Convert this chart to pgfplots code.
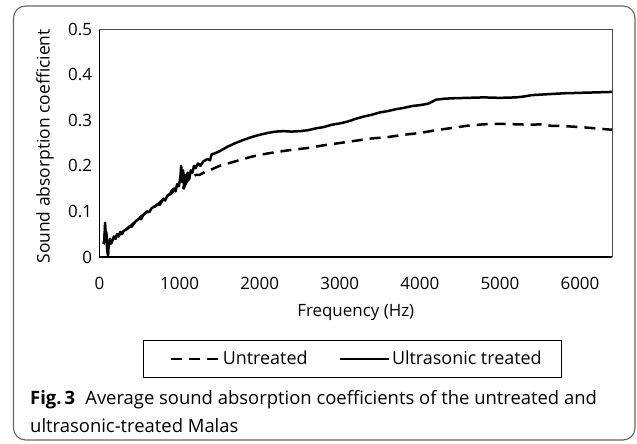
\documentclass[border=0pt]{standalone}
\usepackage{fontspec}
\setmainfont{Open Sans}
\usepackage{pgfplots}
\pgfplotsset{compat=1.18}
\begin{document}
\begin{tikzpicture}[x=1bp,y=1bp]
\useasboundingbox (-99.5,-187) rectangle (537.5,257);
\draw[gray!80!black, line width=1.1bp, rounded corners=12bp] (-86,251) rectangle (535.5,-183);
\begin{axis}[
  at={(0,0)}, anchor=south west,
  scale only axis, width=512.5bp, height=228bp,
  xmin=0, xmax=6400, ymin=0, ymax=0.5,
  xtick={0,1000,2000,3000,4000,5000,6000},
  ytick={0,0.1,0.2,0.3,0.4,0.5},
  yticklabels={0,0.1,0.2,0.3,0.4,0.5},
  xticklabels={0,1000,2000,3000,4000,5000,6000},
  major tick length=0pt,
  axis x line*=bottom, axis y line*=left,
  axis line style={black, line width=1.8bp, -},
  font=\fontsize{17}{19}\selectfont,
  xticklabel style={yshift=-17bp},
  yticklabel style={xshift=-4bp},
  xlabel={Frequency (Hz)},
  ylabel={Sound absorption coefficient},
  xlabel style={at={(axis description cs:0.5,-0.245)}, anchor=center},
  ylabel style={at={(axis description cs:-0.1063,0.485)}, anchor=center, rotate=0, font=\fontsize{17.5}{19}\selectfont},
  legend columns=2,
  legend style={at={(axis description cs:0.4937,-0.4465)}, anchor=center,
    draw=black, line width=0.9bp, inner xsep=18bp, inner ysep=8bp,
    font=\fontsize{18}{20}\selectfont,
    nodes={inner xsep=2bp, inner ysep=3bp},
    /tikz/every odd column/.append style={column sep=0bp},
    /tikz/every even column/.append style={column sep=21bp}},
  legend image code/.code={\path (-8bp,0bp); \draw[#1, line width=2.4bp] (0bp,0bp) -- (49bp,0bp);},
  after end axis/.code={\draw[black!70, line width=0.8bp] (rel axis cs:0,1) -- (rel axis cs:1,1) -- (rel axis cs:1,0);},
]
\addplot[black, line width=2.5bp, dash pattern=on 11bp off 7bp, line join=round] coordinates {
(50,0.028) (60,0.032) (70,0.07) (76,0.035) (86,0.05) (96,0.018) (106,0.006) (116,0.022) (130,0.038) (145,0.03) (160,0.036) (180,0.044) (200,0.04) (220,0.05) (240,0.046) (260,0.054) (300,0.056) (350,0.063) (400,0.07) (450,0.078) (500,0.086) (550,0.093) (600,0.1) (650,0.106) (700,0.112) (750,0.119) (800,0.127) (850,0.134) (900,0.14) (950,0.15) (1000,0.155) (1050,0.152) (1100,0.168) (1150,0.175) (1200,0.18) (1250,0.18) (1300,0.185) (1400,0.192) (1500,0.2) (1600,0.205) (1700,0.21) (1800,0.215) (1900,0.22) (2000,0.224) (2200,0.23) (2400,0.235) (2600,0.239) (2800,0.245) (3000,0.25) (3200,0.255) (3400,0.26) (3600,0.263) (3800,0.268) (4000,0.272) (4200,0.278) (4400,0.283) (4600,0.288) (4800,0.291) (5000,0.292) (5200,0.291) (5400,0.29) (5500,0.291) (5600,0.288) (5800,0.287) (6000,0.285) (6200,0.282) (6400,0.279)
};
\addlegendentry{Untreated}
\addplot[black, line width=2.5bp, line join=round] coordinates {
(50,0.03) (60,0.035) (70,0.075) (75,0.04) (85,0.055) (95,0.02) (106,0.004) (115,0.025) (130,0.04) (145,0.03) (160,0.035) (180,0.045) (200,0.04) (220,0.05) (240,0.045) (260,0.055) (280,0.05) (300,0.057) (350,0.062) (380,0.068) (400,0.066) (450,0.078) (500,0.085) (520,0.083) (550,0.093) (600,0.1) (620,0.098) (650,0.107) (700,0.112) (730,0.116) (750,0.114) (800,0.128) (820,0.124) (850,0.135) (880,0.138) (900,0.145) (930,0.15) (950,0.144) (970,0.16) (990,0.155) (1010,0.175) (1020,0.2) (1030,0.165) (1045,0.19) (1055,0.15) (1070,0.18) (1085,0.165) (1100,0.185) (1120,0.17) (1140,0.19) (1160,0.185) (1180,0.2) (1200,0.195) (1230,0.205) (1260,0.2) (1300,0.21) (1350,0.215) (1380,0.212) (1400,0.225) (1450,0.228) (1500,0.232) (1600,0.242) (1700,0.25) (1800,0.257) (1900,0.263) (2000,0.268) (2100,0.272) (2200,0.275) (2300,0.276) (2400,0.275) (2500,0.276) (2600,0.278) (2700,0.282) (2800,0.285) (2900,0.29) (3000,0.293) (3100,0.297) (3200,0.303) (3300,0.308) (3400,0.312) (3500,0.317) (3600,0.32) (3700,0.324) (3800,0.327) (3900,0.331) (4000,0.333) (4100,0.336) (4150,0.34) (4200,0.345) (4300,0.347) (4400,0.348) (4600,0.349) (4800,0.35) (5000,0.349) (5200,0.35) (5300,0.352) (5400,0.355) (5600,0.357) (5800,0.359) (6000,0.36) (6200,0.361) (6400,0.362)
};
\addlegendentry{Ultrasonic treated}
\end{axis}
\node[anchor=base west, inner sep=0pt, font=\fontsize{18.5}{21}\selectfont] at (-69.5,-148) {\textbf{Fig.\,3}\hspace{0.55em}Average sound absorption coefficients of the untreated and};
\node[anchor=base west, inner sep=0pt, font=\fontsize{18.5}{21}\selectfont] at (-69.5,-176) {ultrasonic-treated Malas};
\end{tikzpicture}
\end{document}
